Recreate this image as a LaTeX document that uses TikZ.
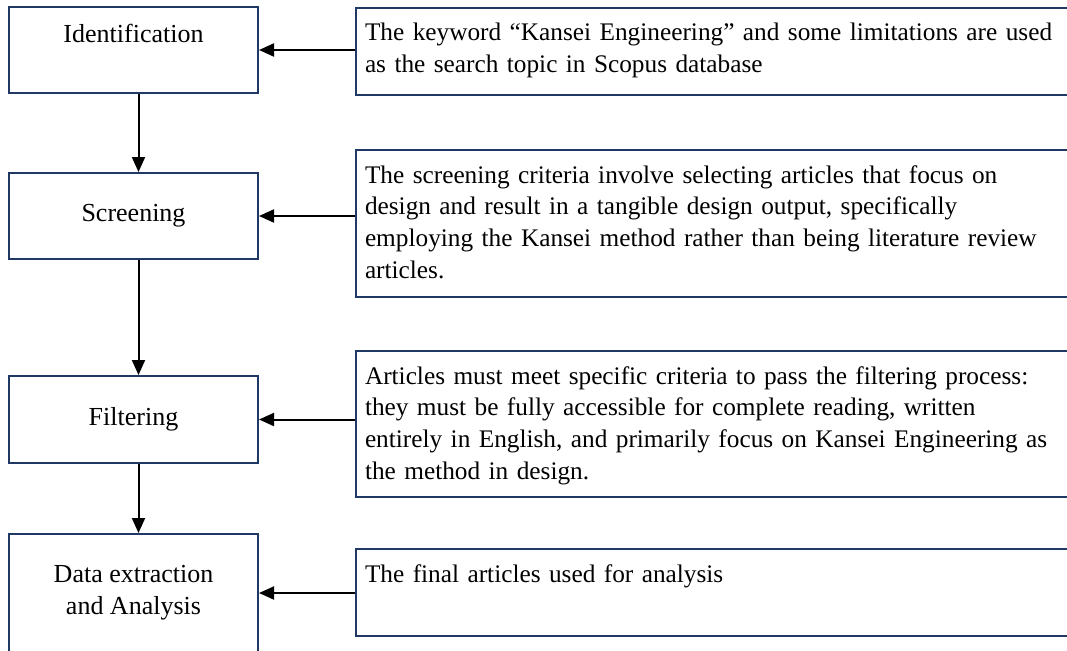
\documentclass[tikz,border=0pt]{standalone}
\usepackage{fontspec}
\setmainfont{Liberation Serif}
\usetikzlibrary{arrows.meta,positioning}
\definecolor{boxnavy}{RGB}{31,56,100}
\begin{document}
\begin{tikzpicture}[x=1pt,y=-1pt,
    every node/.style={font=\fontsize{26}{31.7}\selectfont},
    stagebox/.style={draw=boxnavy, line width=2pt, minimum width=249pt, align=center, inner sep=0pt},
    notebox/.style={draw=boxnavy, line width=2pt, anchor=north west, text width=707pt, align=left, inner xsep=9pt, inner ysep=0pt, text height=33pt, font=\fontsize{25.3}{31.7}\selectfont},
    flow/.style={line width=2pt, -{Triangle[length=15pt,width=13pt]}}]
    \useasboundingbox (0,0) rectangle (1067,650);
    \clip (0,0) rectangle (1067,650);
    \node[stagebox, text height=36pt, text depth=50pt] (ident) at (133.5,50) {Identification};
    \node[stagebox, minimum height=86pt] (screen) at (133.5,216) {Screening};
    \node[stagebox, minimum height=87pt] (filter) at (133.5,419.5) {Filtering};
    \node[stagebox, minimum height=118pt] (extract) at (133.5,593) {Data extraction\\and Analysis};
    \node[notebox, text depth=54pt] (identnote) at (355,7) {The keyword ``Kansei Engineering'' and some limitations are used\\as the search topic in Scopus database};
    \node[notebox, text depth=114pt] (screennote) at (355,149) {The screening criteria involve selecting articles that focus on\\design and result in a tangible design output, specifically\\employing the Kansei method rather than being literature review\\articles.};
    \node[notebox, text depth=113pt] (filternote) at (355,350) {Articles must meet specific criteria to pass the filtering process:\\they must be fully accessible for complete reading, written\\entirely in English, and primarily focus on Kansei Engineering as\\the method in design.};
    \node[notebox, text depth=54pt] (extractnote) at (355,548) {The final articles used for analysis};
    \draw[flow] (identnote.west |- ident.east) -- (ident.east);
    \draw[flow] (screennote.west |- screen.east) -- (screen.east);
    \draw[flow] (filternote.west |- filter.east) -- (filter.east);
    \draw[flow] (extractnote.west |- extract.east) -- (extract.east);
    \draw[flow] ([xshift=5pt]ident.south) -- ([xshift=5pt]screen.north);
    \draw[flow] ([xshift=5pt]screen.south) -- ([xshift=5pt]filter.north);
    \draw[flow] ([xshift=5pt]filter.south) -- ([xshift=5pt]extract.north);
\end{tikzpicture}
\end{document}
